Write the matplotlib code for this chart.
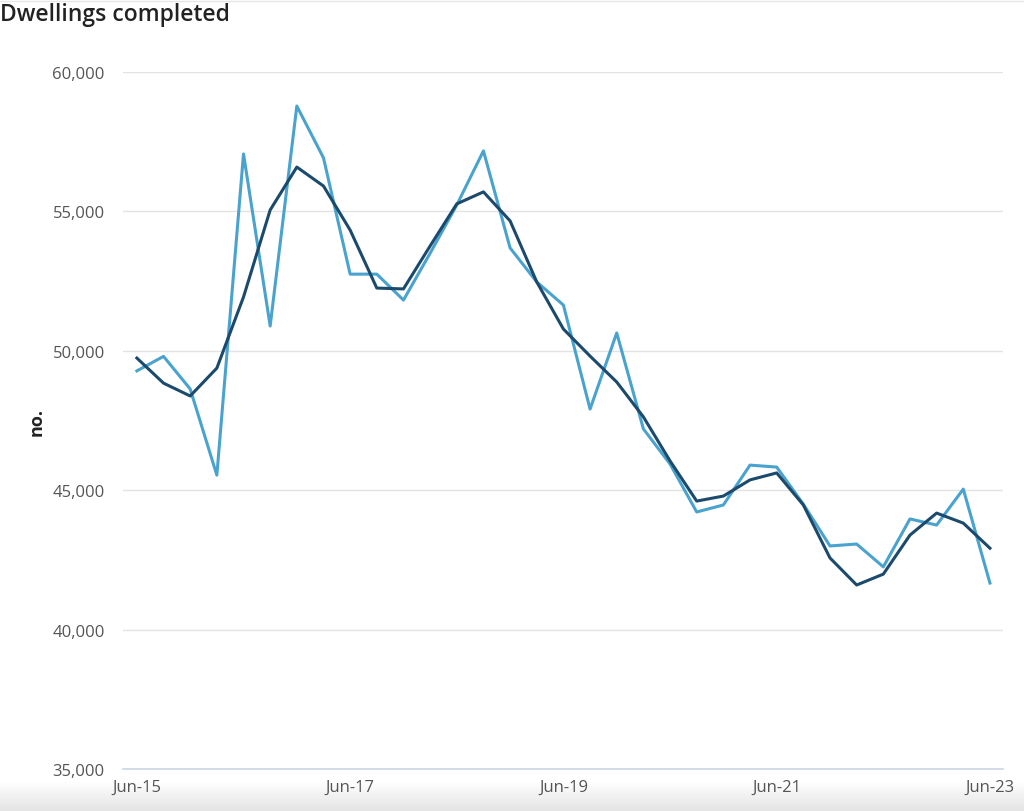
import numpy as np
import matplotlib.pyplot as plt
from matplotlib.colors import LinearSegmentedColormap

plt.rcParams['font.family'] = ['Open Sans', 'DejaVu Sans']

# quarterly, Jun-15 .. Jun-23
quarters = list(range(33))
tick_pos = [0, 8, 16, 24, 32]
tick_labels = ['Jun-15', 'Jun-17', 'Jun-19', 'Jun-21', 'Jun-23']

seasonally_adjusted = [49280, 49800, 48630, 45540, 57060, 50890, 58780, 56920,
                       52750, 52750, 51820, 53500, 55230, 57170, 53690, 52470,
                       51640, 47910, 50640, 47200, 45940, 44220, 44470, 45900,
                       45830, 44500, 43000, 43070, 42250, 43970, 43750, 45040,
                       41670]
trend = [49740, 48840, 48380, 49380, 51930, 55050, 56590, 55910,
         54330, 52250, 52220, 53760, 55270, 55700, 54660, 52470,
         50780, 49810, 48880, 47630, 46050, 44610, 44790, 45370,
         45620, 44470, 42570, 41600, 41990, 43390, 44180, 43820,
         42920]

fig = plt.figure(figsize=(10.24, 8.12), dpi=100)

# grey fade at the bottom of the page (behind everything)
grad_ax = fig.add_axes([0, 0, 1, 0.036])
fade = LinearSegmentedColormap.from_list('fade', ['#e4e4e4', '#ffffff'])
grad_ax.imshow(np.linspace(0, 1, 50).reshape(-1, 1), aspect='auto', cmap=fade,
               extent=[0, 1, 0, 1], origin='lower')
grad_ax.axis('off')
grad_ax.set_zorder(-1)

ax = fig.add_axes([0.120, 0.0517, 0.8595, 0.8584])
ax.patch.set_alpha(0)

ax.plot(quarters, seasonally_adjusted, color='#4aa3cf', lw=2.2, clip_on=False, zorder=3)
ax.plot(quarters, trend, color='#1c4a6c', lw=2.2, clip_on=False, zorder=4)

ax.set_xlim(-0.525, 32.49)
ax.set_ylim(35000, 60000)
ax.set_yticks(range(35000, 60001, 5000))
ax.set_yticklabels([f'{v:,}' for v in range(35000, 60001, 5000)])
ax.set_xticks(tick_pos)
ax.set_xticklabels(tick_labels)

ax.grid(axis='y', color='#e3e3e3', lw=1)
ax.set_axisbelow(True)
for s in ['top', 'right', 'left']:
    ax.spines[s].set_visible(False)
ax.spines['bottom'].set_color('#ccd6e3')
ax.spines['bottom'].set_linewidth(1.2)
ax.tick_params(axis='both', length=0, labelsize=12, colors='#555555')
ax.tick_params(axis='y', pad=13)
ax.tick_params(axis='x', pad=7)

ax.set_ylabel('no.', fontsize=13, fontweight='bold', color='#222222')
ax.yaxis.set_label_coords(-0.088, 0.5)

fig.text(0.0, 0.982, 'Dwellings completed', fontsize=16.5, fontweight='semibold',
         color='#222222', ha='left', va='center')

fig.add_artist(plt.Line2D([0, 1], [0.997, 0.997], color='#e6e6e6', lw=1))

fig.savefig('out.png', dpi=100)
